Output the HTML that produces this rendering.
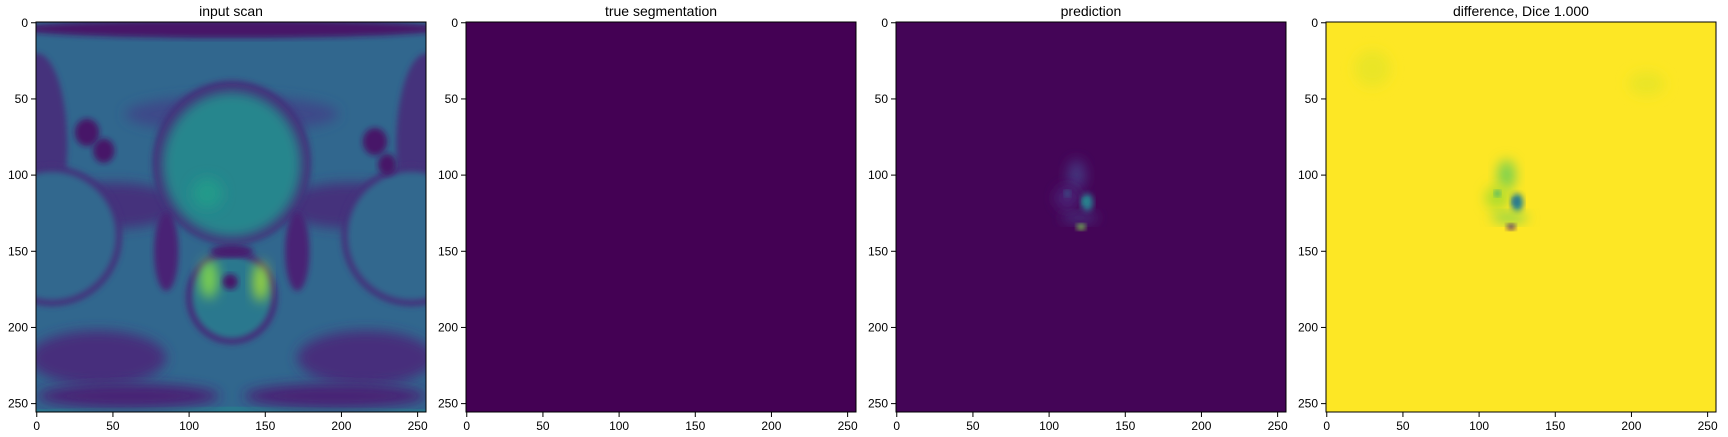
<!DOCTYPE html>
<html><head><meta charset="utf-8">
<style>
body{margin:0;background:#fff;width:1728px;height:432px;overflow:hidden;font-family:"Liberation Sans","DejaVu Sans",sans-serif;}
svg text{font-family:"Liberation Sans","DejaVu Sans",sans-serif;}
</style></head><body>
<svg id="fig" width="1728" height="432" xmlns="http://www.w3.org/2000/svg">
<defs>
<filter id="b2" x="-20%" y="-20%" width="140%" height="140%"><feGaussianBlur stdDeviation="2"/></filter>
<filter id="b4" x="-50%" y="-50%" width="200%" height="200%"><feGaussianBlur stdDeviation="4"/></filter>
<clipPath id="clipimg"><rect x="-0.5" y="-0.5" width="256" height="256"/></clipPath>
</defs>
</svg>
<script>
const titles = ["input scan","true segmentation","prediction","difference, Dice 1.000"];
const tickValues = [0,50,100,150,200,250];
const panelLefts = [36,466,896,1326];
// background value per panel (viridis 0..1)
const baseValues = [0.33, 0.0, 0.01, 1.0];
// blobs: [cx, cy, rx, ry, value, blur]
const scanBlobs = [
 [128,4,140,6,0.06,1],[128,255,140,3,0.4,0],
 [0,80,20,60,0.14,2],[256,80,20,60,0.14,2],
 [50,120,45,15,0.14,4],[206,120,45,15,0.14,4],
 [128,60,70,12,0.22,4],
 [10,140,46,46,0.14,1],[10,140,42,42,0.33,2],
 [246,140,46,46,0.14,1],[246,140,42,42,0.33,2],
 [33,72,8,9,0.06,1],[44,84,7,8,0.06,1],[222,78,8,9,0.06,1],[230,93,6,7,0.06,1],
 [128,92,52,54,0.12,2],[128,93,46,48,0.46,3],[112,112,10,10,0.54,4],
 [85,150,8,26,0.1,2],[171,150,8,26,0.1,2],
 [40,220,45,18,0.13,4],[216,220,45,18,0.13,4],[60,245,60,8,0.1,4],[196,245,60,8,0.1,4],
 [128,180,30,31,0.12,1],[128,180,26,27,0.4,2],
 [113,168,6,13,0.8,3],[147,170,5,13,0.85,3],[127,170,5,5,0.06,1],[128,150,14,4,0.08,1]
];
const predBlobs = [
 [118,100,6,10,0.15,3],[112,115,8,8,0.1,4],[125,118,4,6,0.4,2],
 [120,128,12,3,0.15,3],[121,134,3,2,0.8,1],[124,117,2,2,0.5,1],
 [112,112,2,2,0.3,1]
];
const diffBlobs = [
 [118,100,6,10,0.8,3],[112,115,8,8,0.88,4],[125,118,4,6,0.45,2],
 [120,128,12,3,0.8,3],[121,134,3,2,0.1,1],[124,117,2,2,0.35,1],
 [112,112,2,2,0.6,1],[30,30,12,12,0.97,6],[210,40,12,8,0.97,5]
];
const blobSets = [scanBlobs, [], predBlobs, diffBlobs];

const stops=[[68,1,84],[72,40,120],[62,74,137],[49,104,142],[38,130,142],[31,158,137],[53,183,121],[110,206,88],[181,222,43],[253,231,37]];
function viridis(v){v=Math.max(0,Math.min(1,v));const f=v*9,i=Math.min(8,Math.floor(f)),t=f-i;
 const a=stops[i],b=stops[i+1];return `rgb(${a.map((c,k)=>Math.round(c+(b[k]-c)*t)).join(',')})`;}

const NS="http://www.w3.org/2000/svg";
const fig=document.getElementById('fig');
const TOP=22, SIZE=390;
function mk(tag,attrs,parent){const e=document.createElementNS(NS,tag);for(const k in attrs)e.setAttribute(k,attrs[k]);(parent||fig).appendChild(e);return e;}
const dataToPx = v => (v+0.5)/256*SIZE;

panelLefts.forEach((L,p)=>{
 const g=mk('g',{});
 
 
 const img=mk('svg',{x:L,y:TOP,width:SIZE,height:SIZE,viewBox:'-0.5 -0.5 256 256',preserveAspectRatio:'none'},g);
 
 
 const ig=mk('g',{'clip-path':'url(#clipimg)'},img);
 mk('rect',{x:-0.5,y:-0.5,width:256,height:256,fill:viridis(baseValues[p])},ig);
 blobSets[p].forEach(b=>{
  const e=mk('ellipse',{cx:b[0],cy:b[1],rx:b[2],ry:b[3],fill:viridis(b[4])},ig);
  if(b[5]>=3)e.setAttribute('filter','url(#b4)');else if(b[5]>0)e.setAttribute('filter','url(#b2)');
  
  
 });
 const fr=mk('rect',{x:L,y:TOP,width:SIZE,height:SIZE,fill:'none',stroke:'#000','stroke-width':1},g);
 
 
 const t=mk('text',{x:L+SIZE/2,y:TOP-6,'text-anchor':'middle','font-size':14,fill:'#000'},g);
 t.textContent=titles[p];
 
 
 tickValues.forEach(v=>{
  const px=L+dataToPx(v), py=TOP+dataToPx(v);
  mk('line',{x1:px,y1:TOP+SIZE,x2:px,y2:TOP+SIZE+5,stroke:'#000','stroke-width':1},g);
  const xl=mk('text',{x:px,y:TOP+SIZE+18,'text-anchor':'middle','font-size':12,fill:'#000'},g);
  xl.textContent=v;
  
  
  mk('line',{x1:L-5,y1:py,x2:L,y2:py,stroke:'#000','stroke-width':1},g);
  const yl=mk('text',{x:L-8,y:py+4,'text-anchor':'end','font-size':12,fill:'#000'},g);
  yl.textContent=v;
  
  
 });
});
</script>
</body></html>
